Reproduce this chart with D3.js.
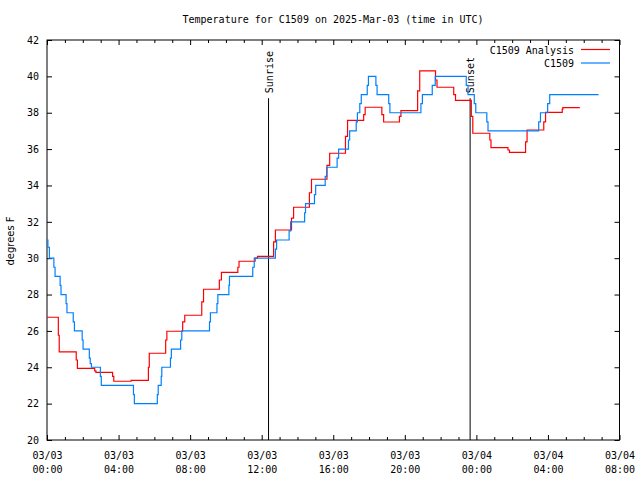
<!DOCTYPE html>
<html>
<head>
<meta charset="utf-8">
<script src="https://cdn.jsdelivr.net/npm/d3@7"></script>
<style>
  body { margin: 0; background: #fff; }
  svg { display: block; }
  text { font-family: "DejaVu Sans Mono", monospace; font-size: 10px; fill: #000; }
</style>
</head>
<body>
<svg id="chart" width="640" height="480"></svg>
<script>
// ---- data (minutes since 2025-03-03 00:00 UTC) ----
const startTime = "2025-03-03T00:00:00Z";
const endTime = "2025-03-04T08:00:00Z";
const yDomain = [20, 42];
const yTickValues = [20, 22, 24, 26, 28, 30, 32, 34, 36, 38, 40, 42];
const seriesNames = ["C1509 Analysis", "C1509"];
const seriesColors = ["#ff0000", "#0080ff"];

const analysisMinutes = [0, 38, 41, 98, 102, 160, 164, 220, 224, 282, 340, 343, 398, 402, 455, 462, 519, 525, 578, 585, 640, 644, 698, 706, 760, 766, 820, 827, 880, 887, 939, 948, 1001, 1008, 1062, 1067, 1123, 1129, 1182, 1187, 1243, 1250, 1303, 1308, 1364, 1370, 1423, 1428, 1485, 1489, 1546, 1551, 1605, 1610, 1666, 1672, 1728, 1730, 1787];
const analysisTemps = [26.75, 25.76, 24.85, 24.4, 23.94, 23.8, 23.72, 23.5, 23.23, 23.28, 24.0, 24.77, 25.5, 25.98, 26.5, 26.86, 27.6, 28.29, 28.8, 29.22, 29.5, 29.83, 30.0, 30.1, 30.9, 31.55, 32.2, 32.8, 33.6, 34.34, 35.1, 35.77, 36.7, 37.58, 37.9, 38.3, 37.9, 37.49, 37.8, 38.12, 39.2, 40.3, 39.8, 39.4, 39.0, 38.68, 37.8, 36.87, 36.5, 36.08, 35.95, 35.82, 36.4, 37.05, 37.5, 38.02, 38.2, 38.28, 38.28];

const obsMinutes = [0, 3, 8, 23, 27, 44, 47, 64, 67, 88, 92, 118, 121, 142, 145, 149, 179, 182, 290, 293, 370, 373, 383, 385, 414, 417, 448, 452, 545, 548, 570, 573, 610, 612, 690, 695, 766, 770, 812, 817, 864, 867, 897, 901, 933, 938, 973, 978, 1011, 1015, 1037, 1041, 1049, 1054, 1074, 1078, 1103, 1107, 1146, 1150, 1254, 1259, 1292, 1302, 1406, 1412, 1433, 1438, 1475, 1479, 1649, 1655, 1679, 1686, 1850];
const obsTemps = [31, 30.6, 30, 29.5, 29, 28.5, 28, 27.5, 27, 26.5, 26, 25.5, 25, 24.5, 24.2, 24, 23.5, 23, 22.5, 22, 22.5, 23, 23.5, 24, 24.5, 25, 25.5, 26, 26.5, 27, 27.5, 28, 28.5, 29, 29.5, 30, 30.5, 31, 31.5, 32, 32.5, 33, 33.5, 34, 34.5, 35, 35.5, 36, 36.5, 37, 37.5, 38, 38.5, 39, 39.5, 40, 39.5, 39, 38.5, 38, 38.5, 39, 39.5, 40, 39.5, 39, 38.5, 38, 37.5, 37, 37.5, 38, 38.5, 39, 39];

const sunEventNames = ["Sunrise", "Sunset"];
const sunEventMinutes = [743, 1419];
const sunLineTop = 38.8;

// ---- layout ----
const W = 640, H = 480;
const m = { left: 47, right: 619.5, top: 40, bottom: 440 };
const t0 = new Date(startTime);
const toDate = mins => new Date(t0.getTime() + mins * 60000);

const x = d3.scaleUtc().domain([t0, new Date(endTime)]).range([m.left, m.right]);
const y = d3.scaleLinear().domain(yDomain).range([m.bottom, m.top]);

const svg = d3.select("#chart");

// title
svg.append("text").attr("x", 333).attr("y", 23).attr("text-anchor", "middle")
  .text("Temperature for C1509 on 2025-Mar-03 (time in UTC)");

// y label
svg.append("text").attr("transform", "translate(14,241) rotate(-90)")
  .attr("text-anchor", "middle").style("font-family", "DejaVu Sans, sans-serif")
  .text("degrees F");

const majorTicks = d3.utcHour.every(4).range(t0, new Date(new Date(endTime).getTime() + 1));
const minorTicks = d3.utcHour.every(1).range(t0, new Date(new Date(endTime).getTime() + 1))
  .filter(d => d.getUTCHours() % 4 !== 0);

const fmtDate = d3.utcFormat("%m/%d"), fmtTime = d3.utcFormat("%H:%M");

// bottom axis (major, inward)
const gB = svg.append("g").attr("transform", `translate(0,${m.bottom})`)
  .call(d3.axisBottom(x).tickValues(majorTicks).tickSizeInner(-5).tickSizeOuter(0).tickFormat(""));
gB.select(".domain").remove();
gB.selectAll(".tick text").remove();
gB.selectAll(".tick").append("text").attr("text-anchor", "middle").attr("y", 19)
  .text(d => fmtDate(d));
gB.selectAll(".tick").append("text").attr("text-anchor", "middle").attr("y", 33)
  .text(d => fmtTime(d));
// bottom minor
const gBm = svg.append("g").attr("transform", `translate(0,${m.bottom})`)
  .call(d3.axisBottom(x).tickValues(minorTicks).tickSizeInner(-3).tickSizeOuter(0).tickFormat(""));
gBm.select(".domain").remove();
// top ticks
const gT = svg.append("g").attr("transform", `translate(0,${m.top})`)
  .call(d3.axisTop(x).tickValues(majorTicks).tickSizeInner(-5).tickSizeOuter(0).tickFormat(""));
gT.select(".domain").remove();
const gTm = svg.append("g").attr("transform", `translate(0,${m.top})`)
  .call(d3.axisTop(x).tickValues(minorTicks).tickSizeInner(-3).tickSizeOuter(0).tickFormat(""));
gTm.select(".domain").remove();

// left axis
const gL = svg.append("g").attr("transform", `translate(${m.left},0)`)
  .call(d3.axisLeft(y).tickValues(yTickValues).tickSizeInner(-5).tickSizeOuter(0).tickPadding(8).tickFormat(d3.format("d")));
gL.select(".domain").remove();
gL.selectAll(".tick text").attr("font-family", null).attr("font-size", null);
// right axis
const gR = svg.append("g").attr("transform", `translate(${m.right},0)`)
  .call(d3.axisRight(y).tickValues(yTickValues).tickSizeInner(-5).tickSizeOuter(0).tickFormat(""));
gR.select(".domain").remove();

svg.selectAll("g text").attr("font-family", null).attr("font-size", null);
svg.selectAll(".tick line").attr("stroke", "#000");

// frame
svg.append("rect").attr("x", m.left).attr("y", m.top)
  .attr("width", m.right - m.left).attr("height", m.bottom - m.top)
  .attr("fill", "none").attr("stroke", "#000").attr("stroke-width", 1);

// sunrise / sunset
sunEventMinutes.forEach((mins, i) => {
  const xp = x(toDate(mins));
  svg.append("line").attr("x1", xp).attr("x2", xp)
    .attr("y1", y(sunLineTop)).attr("y2", y(yDomain[0]))
    .attr("stroke", "#000").attr("stroke-width", 1);
  svg.append("text").attr("transform", `translate(${xp + 4},${y(sunLineTop) - 5}) rotate(-90)`)
    .attr("text-anchor", "start").text(sunEventNames[i]);
});

// series
const line = d3.line().x(d => x(d.t)).y(d => y(d.v)).curve(d3.curveStepAfter);
const seriesData = [
  analysisMinutes.map((mm, i) => ({ t: toDate(mm), v: analysisTemps[i] })),
  obsMinutes.map((mm, i) => ({ t: toDate(mm), v: obsTemps[i] }))
];
seriesData.forEach((data, i) => {
  svg.append("path").datum(data).attr("d", line)
    .attr("fill", "none").attr("stroke", seriesColors[i]).attr("stroke-width", 1.2);
});

// legend
seriesNames.forEach((name, i) => {
  const ly = 49.5 + i * 13.5;
  svg.append("text").attr("x", 574).attr("y", ly + 4).attr("text-anchor", "end").text(name);
  svg.append("line").attr("x1", 581).attr("x2", 610).attr("y1", ly).attr("y2", ly)
    .attr("stroke", seriesColors[i]).attr("stroke-width", 1.2);
});
</script>
</body>
</html>
